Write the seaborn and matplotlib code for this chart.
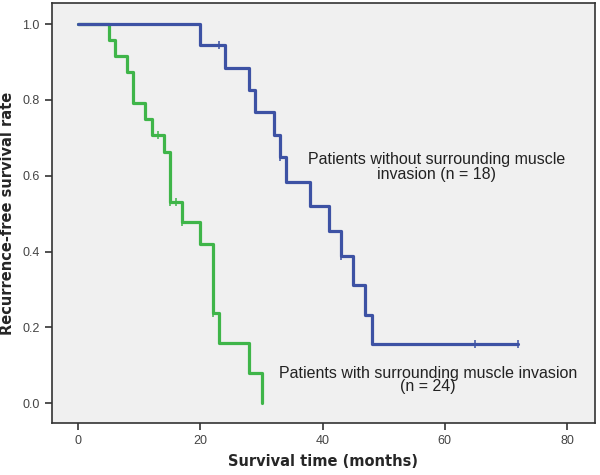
import pandas as pd
import seaborn as sns
import matplotlib.pyplot as plt

# step curves (time in months, survival level after that time)
blue_time = [0, 20, 24, 28, 29, 32, 33, 34, 38, 41, 43, 45, 47, 48, 72]
blue_surv = [1.0, 0.944, 0.885, 0.826, 0.767, 0.708, 0.649, 0.584, 0.519,
             0.454, 0.389, 0.311, 0.233, 0.155, 0.155]
blue_cens_time = [23, 33, 43, 65, 72]
blue_cens_surv = [0.944, 0.649, 0.389, 0.155, 0.155]

green_time = [0, 5, 6, 8, 9, 11, 12, 14, 15, 17, 20, 22, 23, 28, 30]
green_surv = [1.0, 0.958, 0.917, 0.875, 0.792, 0.750, 0.708, 0.664, 0.531,
              0.478, 0.419, 0.239, 0.159, 0.080, 0.0]
green_cens_time = [13, 15, 16, 17, 22]
green_cens_surv = [0.708, 0.531, 0.531, 0.478, 0.239]

x_ticks = [0, 20, 40, 60, 80]
y_ticks = [0.0, 0.2, 0.4, 0.6, 0.8, 1.0]

blue = '#3d52a4'
green = '#3fb549'

sns.set_style('ticks')
plt.rcParams['font.family'] = ['Liberation Sans', 'DejaVu Sans']

fig = plt.figure(figsize=(6, 4.75), dpi=100)
ax = fig.add_axes([0.086, 0.109, 0.906, 0.884])
ax.set_facecolor('#f0f0f0')
fig.patch.set_facecolor('white')

sns.lineplot(x=green_time, y=green_surv, drawstyle='steps-post', color=green,
             linewidth=2.3, ax=ax, estimator=None, sort=False)
sns.lineplot(x=blue_time, y=blue_surv, drawstyle='steps-post', color=blue,
             linewidth=2.3, ax=ax, estimator=None, sort=False)
sns.scatterplot(x=green_cens_time, y=green_cens_surv, marker='|', s=40,
                color=green, linewidth=1.1, ax=ax, zorder=3)
sns.scatterplot(x=blue_cens_time, y=blue_cens_surv, marker='|', s=40,
                color=blue, linewidth=1.1, ax=ax, zorder=3)

ax.text(58.7, 0.624, 'Patients without surrounding muscle\ninvasion (n = 18)',
        ha='center', va='center', fontsize=11.5, color='#222222', linespacing=1.0)
ax.text(57.2, 0.061, 'Patients with surrounding muscle invasion\n(n = 24)',
        ha='center', va='center', fontsize=11.5, color='#222222', linespacing=0.85)

ax.set_xlim(-4.35, 84.6)
ax.set_ylim(-0.053, 1.055)
ax.set_xticks(x_ticks)
ax.set_yticks(y_ticks)
ax.set_xticklabels([str(t) for t in x_ticks])
ax.set_yticklabels([f'{t:.1f}' for t in y_ticks])
ax.tick_params(axis='both', labelsize=9, labelcolor='#444444', colors='#333333',
               length=5, width=1.2, direction='out')
for s in ax.spines.values():
    s.set_color('#333333')
    s.set_linewidth(1.2)

ax.set_xlabel('Survival time (months)', fontsize=10.5, fontweight='bold',
              family='DejaVu Sans', labelpad=5)
ax.set_ylabel('Recurrence-free survival rate', fontsize=10.5, fontweight='bold',
              family='DejaVu Sans', labelpad=5)

plt.savefig('out.png', dpi=100)
plt.close()
